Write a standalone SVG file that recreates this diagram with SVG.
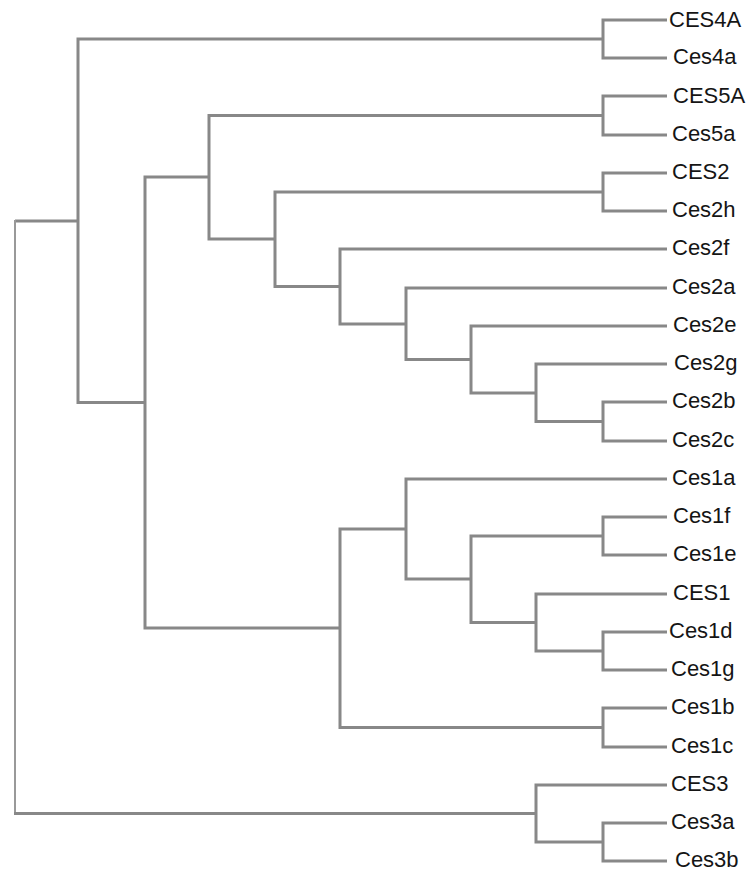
<svg xmlns="http://www.w3.org/2000/svg" width="752" height="873" viewBox="0 0 752 873">
<style>
.e{fill:none;stroke:#888;stroke-width:3;stroke-linejoin:miter;stroke-linecap:butt}
.r{fill:none;stroke:#999;stroke-width:2}
text{font-family:"Liberation Sans",Arial,sans-serif;font-size:22px;fill:#151515}
</style>
<rect width="752" height="873" fill="#fff"/>
<g id="connectors">
<path class="e" d="M667 20 H603 V58 H667"/>
<path class="e" d="M667 96 H603 V135 H667"/>
<path class="e" d="M667 173 H603 V211 H667"/>
<path class="e" d="M667 402 H603 V441 H667"/>
<path class="e" d="M667 364 H536 V421.5 H603"/>
<path class="e" d="M667 326 H471 V393 H536"/>
<path class="e" d="M667 288 H406 V359.5 H471"/>
<path class="e" d="M667 249 H340 V324 H406"/>
<path class="e" d="M603 192 H275 V286.5 H340"/>
<path class="e" d="M603 115.5 H209 V239 H275"/>
<path class="e" d="M667 517 H603 V555 H667"/>
<path class="e" d="M667 632 H603 V670 H667"/>
<path class="e" d="M667 594 H536 V651 H603"/>
<path class="e" d="M603 536 H471 V622.5 H536"/>
<path class="e" d="M667 479 H406 V579 H471"/>
<path class="e" d="M667 708 H603 V747 H667"/>
<path class="e" d="M406 529 H340 V727.5 H603"/>
<path class="e" d="M209 177 H145 V628 H340"/>
<path class="e" d="M603 39 H78 V402.5 H145"/>
<path class="e" d="M667 823 H603 V861 H667"/>
<path class="e" d="M667 785 H536 V842 H603"/>
<path class="e" d="M78 221 H15"/>
<path class="r" d="M15 220 V813.5"/>
<path class="e" d="M14 813.5 H536"/>
</g>
<g id="CES4A"><text x="669" y="27">CES4A</text></g>
<g id="Ces4a"><text x="673" y="64">Ces4a</text></g>
<g id="CES5A"><text x="673" y="102.5">CES5A</text></g>
<g id="Ces5a"><text x="672" y="141">Ces5a</text></g>
<g id="CES2"><text x="672" y="179">CES2</text></g>
<g id="Ces2h"><text x="672" y="217">Ces2h</text></g>
<g id="Ces2f"><text x="672" y="255">Ces2f</text></g>
<g id="Ces2a"><text x="672" y="294">Ces2a</text></g>
<g id="Ces2e"><text x="673" y="332">Ces2e</text></g>
<g id="Ces2g"><text x="674" y="370">Ces2g</text></g>
<g id="Ces2b"><text x="672" y="408">Ces2b</text></g>
<g id="Ces2c"><text x="672" y="447">Ces2c</text></g>
<g id="Ces1a"><text x="672" y="485">Ces1a</text></g>
<g id="Ces1f"><text x="673" y="523">Ces1f</text></g>
<g id="Ces1e"><text x="673" y="561">Ces1e</text></g>
<g id="CES1"><text x="673" y="600">CES1</text></g>
<g id="Ces1d"><text x="669" y="638">Ces1d</text></g>
<g id="Ces1g"><text x="671" y="676">Ces1g</text></g>
<g id="Ces1b"><text x="671" y="714">Ces1b</text></g>
<g id="Ces1c"><text x="671" y="753">Ces1c</text></g>
<g id="CES3"><text x="671" y="791">CES3</text></g>
<g id="Ces3a"><text x="671" y="829">Ces3a</text></g>
<g id="Ces3b"><text x="675" y="866.5">Ces3b</text></g>
</svg>
